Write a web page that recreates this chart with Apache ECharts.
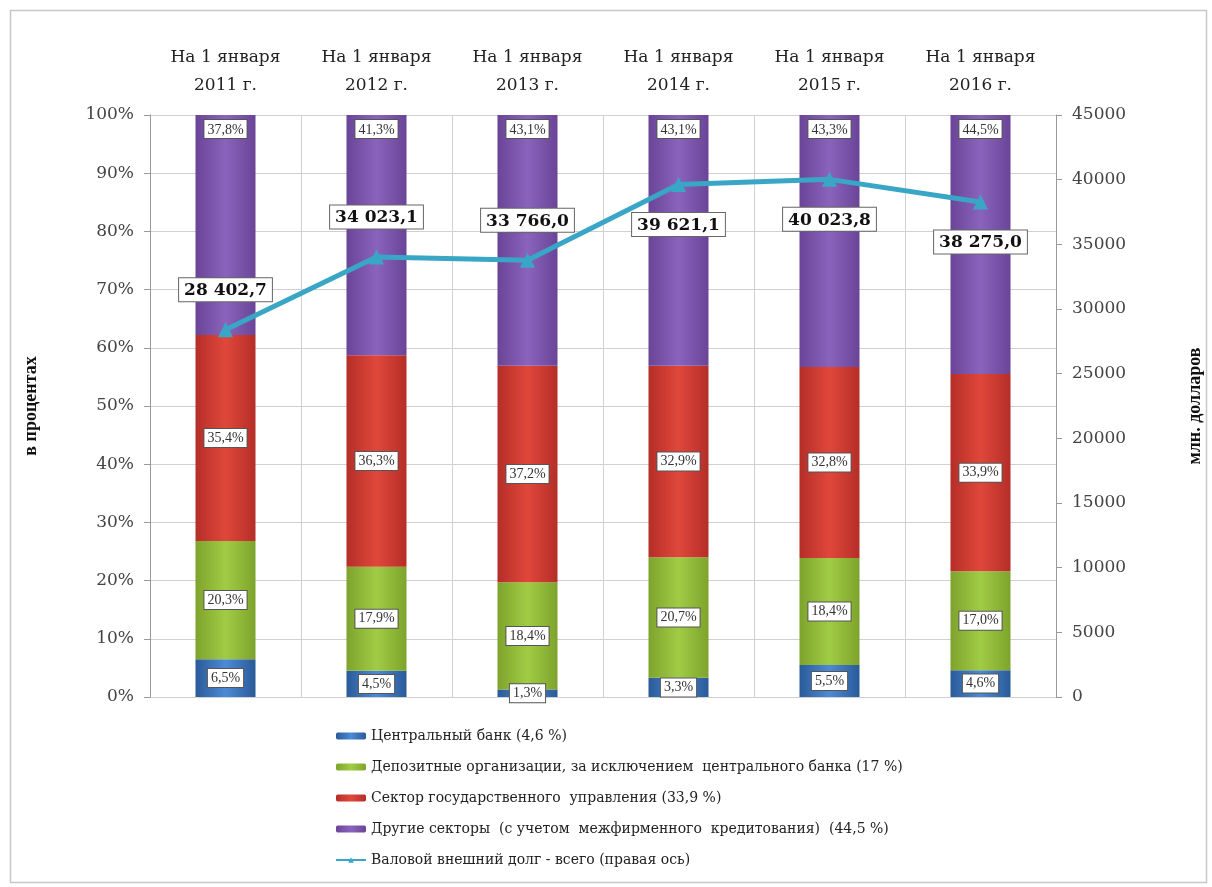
<!DOCTYPE html>
<html>
<head>
<meta charset="utf-8">
<script src="https://cdn.jsdelivr.net/npm/echarts@6/dist/echarts.min.js"></script>
<style>html,body{margin:0;padding:0;background:#fff;}#c{width:1212px;height:887px;}</style>
</head>
<body>
<div id="c"></div>
<script>
var categories = ['На 1 января\n2011 г.', 'На 1 января\n2012 г.', 'На 1 января\n2013 г.', 'На 1 января\n2014 г.', 'На 1 января\n2015 г.', 'На 1 января\n2016 г.'];
var centralBank = [6.5, 4.5, 1.3, 3.3, 5.5, 4.6];
var depository = [20.3, 17.9, 18.4, 20.7, 18.4, 17.0];
var government = [35.4, 36.3, 37.2, 32.9, 32.8, 33.9];
var otherSectors = [37.8, 41.3, 43.1, 43.1, 43.3, 44.5];
var grossDebt = [28402.7, 34023.1, 33766.0, 39621.1, 40023.8, 38275.0];
var seriesNames = [
  'Центральный банк (4,6 %)',
  'Депозитные организации, за исключением  центрального банка (17 %)',
  'Сектор государственного  управления (33,9 %)',
  'Другие секторы  (с учетом  межфирменного  кредитования)  (44,5 %)',
  'Валовой внешний долг - всего (правая ось)'
];

var SERIF = '"Liberation Serif", "DejaVu Serif", serif';
var WIDE = '"DejaVu Serif", "Liberation Serif", serif';

function grad(c1, c2) {
  return new echarts.graphic.LinearGradient(0, 0, 1, 0, [
    {offset: 0, color: c1}, {offset: 0.5, color: c2}, {offset: 1, color: c1}
  ]);
}
function pct(v) { return v.toFixed(1).replace('.', ',') + '%'; }
function num(v) {
  var s = v.toFixed(1).split('.');
  var i = s[0].replace(/\B(?=(\d{3})+(?!\d))/g, ' ');
  return i + ',' + s[1];
}
var barLabel = {
  show: true,
  fontFamily: SERIF,
  fontSize: 14,
  color: '#333',
  backgroundColor: '#fff',
  borderColor: '#555',
  borderWidth: 1,
  padding: [3, 3, 1, 3],
  formatter: function (p) { return pct(p.value); }
};
function barSeries(name, data, c1, c2, pos) {
  return {
    name: name, type: 'bar', stack: 'p', data: data, barWidth: 60,
    itemStyle: {color: grad(c1, c2)},
    label: Object.assign({}, barLabel, {position: pos}),
    z: 2
  };
}

var chart = echarts.init(document.getElementById('c'));
chart.setOption({
  animation: false,
  backgroundColor: '#fff',
  graphic: [{
    type: 'rect', left: 8, top: 8, z: -10,
    shape: {width: 1196, height: 872},
    style: {fill: 'none', stroke: '#c8c8c8', lineWidth: 1.5}
  }],
  grid: {left: 150, right: 152, top: 115, bottom: 190},
  legend: {
    orient: 'vertical', left: 330, top: 723,
    itemWidth: 30, itemHeight: 7, itemGap: 15,
    textStyle: {fontFamily: WIDE, fontSize: 14, color: '#222', lineHeight: 16},
    data: seriesNames
  },
  xAxis: {
    type: 'category', data: categories, position: 'top',
    axisLine: {show: false}, axisTick: {show: false},
    axisLabel: {fontFamily: WIDE, fontSize: 17, color: '#222', lineHeight: 28, margin: 15},
    splitLine: {show: true, lineStyle: {color: '#d0d0d0', width: 1}}
  },
  yAxis: [{
    type: 'value', min: 0, max: 100, interval: 10,
    name: 'в процентах', nameLocation: 'middle', nameGap: 110,
    nameTextStyle: {fontFamily: SERIF, fontSize: 18, fontWeight: 'bold', color: '#111'},
    axisLine: {show: true, lineStyle: {color: '#999'}},
    axisTick: {show: true, length: 6, lineStyle: {color: '#999'}},
    axisLabel: {fontFamily: WIDE, fontSize: 17, color: '#444', margin: 16, formatter: '{value}%'},
    splitLine: {show: true, lineStyle: {color: '#d0d0d0', width: 1}}
  }, {
    type: 'value', min: 0, max: 45000, interval: 5000,
    name: 'млн. долларов', nameLocation: 'middle', nameGap: 130,
    nameTextStyle: {fontFamily: SERIF, fontSize: 18, fontWeight: 'bold', color: '#111'},
    axisLine: {show: true, lineStyle: {color: '#999'}},
    axisTick: {show: true, length: 6, inside: false, lineStyle: {color: '#999'}},
    axisLabel: {fontFamily: WIDE, fontSize: 17, color: '#444', margin: 16,
      formatter: function (v) { return String(v); }},
    splitLine: {show: false}
  }],
  series: [
    barSeries(seriesNames[0], centralBank, '#2a5a98', '#4d8ad6', 'inside'),
    barSeries(seriesNames[1], depository, '#7ea32c', '#a0cc45', 'inside'),
    barSeries(seriesNames[2], government, '#b52e28', '#e0473b', 'inside'),
    barSeries(seriesNames[3], otherSectors, '#6a4497', '#8a64bc', 'insideTop'),
    {
      name: seriesNames[4], type: 'line', yAxisIndex: 1, z: 5,
      data: grossDebt.map(function (v, i) {
        return {value: v, label: {position: i < 3 ? 'top' : 'bottom'}};
      }),
      symbol: 'triangle', symbolSize: 15,
      lineStyle: {color: '#3aa6c6', width: 5},
      itemStyle: {color: '#3aa6c6'},
      label: {
        show: true, distance: 21,
        fontFamily: WIDE, fontSize: 17, fontWeight: 'bold', color: '#111',
        backgroundColor: '#fff', borderColor: '#666', borderWidth: 1,
        padding: [4, 5, 2, 5],
        formatter: function (p) { return num(p.value); }
      }
    }
  ]
});
</script>
</body>
</html>
